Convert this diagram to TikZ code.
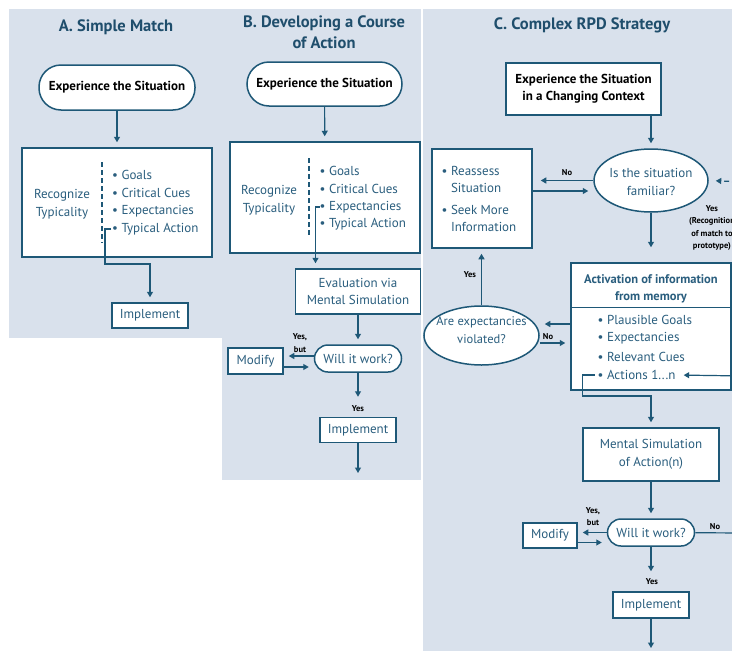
\documentclass[tikz,border=0pt]{standalone}
\usepackage{fontspec}
\setmainfont{PT Sans}
\usetikzlibrary{arrows.meta,shapes.geometric,positioning,calc}
\definecolor{panelbg}{HTML}{D9E1EC}
\definecolor{rpdline}{HTML}{1E5877}
\definecolor{rpdtext}{HTML}{2A5E7E}
\definecolor{rpdtitle}{HTML}{1F4E6C}
\tikzset{%
  panel/.style={fill=panelbg,draw=none},
  heading/.style={font=\bfseries\fontsize{16.5}{21}\selectfont,text=rpdtitle,align=center},
  plainbox/.style={draw=rpdline,line width=1.5pt,fill=white,inner sep=0pt,text=rpdtext,font=\fontsize{13}{17}\selectfont,align=center},
  sitbox/.style={plainbox,rounded corners=22pt,text=black,font=\bfseries\fontsize{13}{17}\selectfont},
  pill/.style={plainbox,rounded corners=13.5pt},
  decision/.style={plainbox,ellipse},
  plaintext/.style={inner sep=0pt,text=rpdtext,font=\fontsize{13}{18}\selectfont,align=center},
  itemtext/.style={anchor=west,inner sep=0pt,text=rpdtext,font=\fontsize{13}{15}\selectfont},
  answer/.style={inner sep=0pt,font=\bfseries\fontsize{8.5}{12.5}\selectfont,align=center},
  flow/.style={draw=rpdline,line width=1.2pt,-{Triangle[width=6pt,length=5.5pt]},shorten >=5pt},
  link/.style={draw=rpdline,line width=1.2pt},
  divider/.style={draw=rpdline,line width=1.2pt,dash pattern=on 5pt off 3pt},
}

\begin{document}
\begin{tikzpicture}[x=1pt,y=-1pt]
\useasboundingbox (0,0) rectangle (732,651);
\fill[white] (0,0) rectangle (732,651);
\fill[panel] (9,9) rectangle (222,338);
\fill[panel] (222,9) rectangle (421,480);
\fill[panel] (423,9) rectangle (732,651);

% A. Simple Match
\node[heading] (ttlA) at (116,27) {A. Simple Match};
\node[sitbox,minimum width=156pt,minimum height=45pt] (expA) at (117,87.5) {Experience the Situation};
\node[plainbox,minimum width=190pt,minimum height=109pt] (recA) at (117,202.5) {};
\node[plaintext] (typA) at (62,204) {Recognize\\Typicality};
\draw[divider] (102,162) -- (102,243);
\node[itemtext] (goA) at (112,175) {\textbullet\ Goals};
\node[itemtext] (ccA) at (112,193) {\textbullet\ Critical Cues};
\node[itemtext] (exA) at (112,211) {\textbullet\ Expectancies};
\node[itemtext] (taA) at (112,229) {\textbullet\ Typical Action};
\node[plainbox,minimum width=76pt,minimum height=25pt] (impA) at (150,315.5) {Implement};
\draw[flow] (expA) -- (recA);
\draw[flow] ([xshift=-1pt]taA.west) -- ++(-6,0) -- ++(0,35) -| (impA.north);

% B. Developing a Course of Action
\node[heading] (ttlB) at (324,32.5) {B. Developing a Course\\of Action};
\node[sitbox,minimum width=155pt,minimum height=44pt] (expB) at (324.5,84) {Experience the Situation};
\node[plainbox,minimum width=190pt,minimum height=111pt] (recB) at (325,197.5) {};
\node[plaintext] (typB) at (269,200) {Recognize\\Typicality};
\draw[divider] (309,158) -- (309,237);
\node[itemtext] (goB) at (319.5,171) {\textbullet\ Goals};
\node[itemtext] (ccB) at (319.5,189) {\textbullet\ Critical Cues};
\node[itemtext] (exB) at (319.5,207) {\textbullet\ Expectancies};
\node[itemtext] (taB) at (319.5,224) {\textbullet\ Typical Action};
\node[plainbox,minimum width=125pt,minimum height=45pt] (evB) at (358,291.5) {Evaluation via\\Mental Simulation};
\node[pill,minimum width=87pt,minimum height=27pt] (wwB) at (358,358.5) {Will it work?};
\node[plainbox,minimum width=55pt,minimum height=26pt] (modB) at (255.5,361) {Modify};
\node[plainbox,minimum width=76pt,minimum height=25pt] (impB) at (358,430) {Implement};
\coordinate (endB) at (358,478);
\draw[flow] (expB) -- (recB);
\draw[flow] (exB.west) -- ++(-4,0) coordinate (kB) -- (kB |- evB.north);
\draw[flow] (evB) -- (wwB);
\draw[flow] ([yshift=2.5pt]wwB.west) -- ([yshift=2.5pt]wwB.west -| modB.east);
\draw[flow] ([yshift=-6pt]modB.east) -- ([yshift=-6pt]modB.east -| wwB.west);
\draw[flow,shorten >=20pt] (wwB) -- (impB);
\draw[flow] (impB) -- (endB);
\node[answer] (ybB) at (300,343) {Yes,\\but};
\node[answer] (yB) at (358,409) {Yes};

% C. Complex RPD Strategy
\node[heading] (ttlC) at (582,25) {C. Complex RPD Strategy};
\node[plainbox,text=black,font=\bfseries\fontsize{13}{17}\selectfont,minimum width=155pt,minimum height=52pt] (expC) at (583.5,89) {Experience the Situation\\in a Changing Context};
\node[decision,minimum width=114pt,minimum height=63pt] (isC) at (651,180.5) {};
\node[plaintext] (isT) at (651,182) {Is the situation\\familiar?};
\node[plainbox,minimum width=100pt,minimum height=99pt] (reC) at (482,198.5) {};
\node[plaintext,align=left,font=\fontsize{13}{17}\selectfont] (reT) at (479,200.5) {\begin{tabular}{@{}l@{\ }l@{}}\textbullet&Reassess\\&Situation\\[5pt]\textbullet&Seek More\\&Information\end{tabular}};
\node[plainbox,minimum width=160pt,minimum height=127pt] (actC) at (651,326.5) {};
\draw[link,line width=1.5pt] ([yshift=-45pt]actC.north west) -- ([yshift=-45pt]actC.north east);
\node[plaintext,font=\bfseries\fontsize{12.5}{17}\selectfont] (actT) at (651,288.5) {Activation of information\\from memory};
\node[itemtext] (pgC) at (597.5,320) {\textbullet\ Plausible Goals};
\node[itemtext] (exC) at (597.5,338) {\textbullet\ Expectancies};
\node[itemtext] (rcC) at (597.5,357) {\textbullet\ Relevant Cues};
\node[itemtext] (anC) at (597.5,375) {\textbullet\ Actions 1...n};
\node[decision,minimum width=115pt,minimum height=59pt] (esC) at (481.5,335.5) {};
\node[plaintext,font=\fontsize{12.5}{18}\selectfont] (esT) at (481.5,330.5) {Are expectancies\\violated?};
\node[plainbox,minimum width=136pt,minimum height=53pt,font=\fontsize{13}{18}\selectfont] (msC) at (651,454.5) {Mental Simulation\\of Action(n)};
\node[pill,minimum width=87pt,minimum height=27pt] (wwC) at (651,532.5) {Will it work?};
\node[plainbox,minimum width=54pt,minimum height=25pt] (modC) at (550,535.5) {Modify};
\node[plainbox,minimum width=76pt,minimum height=26pt] (impC) at (651,605) {Implement};
\coordinate (loopF) at (745,182);
\coordinate (loopA) at (745,376);
\coordinate (loopN) at (745,533);
\coordinate (endC) at (651,653);
\draw[flow] (isC.north |- expC.south) -- (isC.north);
\draw[flow,shorten >=15pt] (isC) -- (actC);
\draw[flow,dash pattern=on 5pt off 3pt,shorten >=7pt] (loopF) -- (isC.east);
\draw[flow,shorten >=8pt] (isC.west) -- (isC.west -| reC.east);
\draw[flow] ([yshift=-10.5pt]isC.west -| reC.east) -- ([yshift=-10.5pt]isC.west);
\draw[flow] ([yshift=2.5pt]actC.west) -- ([yshift=2.5pt]actC.west -| esC.east);
\draw[flow] ([yshift=-7.5pt]esC.east) -- ([yshift=-7.5pt]esC.east -| actC.west);
\draw[flow] (esC) -- (esC.north |- reC.south);
\draw[flow,shorten >=8pt] (loopA) -- (anC.east);
\draw[flow] ([xshift=-3pt]anC.west) -- ++(-12,0) -- ++(0,21) -| (msC.north);
\draw[flow] (msC) -- (wwC);
\draw[flow] (wwC.west) -- (wwC.west -| modC.east);
\draw[flow] ([yshift=-10pt]wwC.west -| modC.east) -- ([yshift=-10pt]wwC.west);
\draw[link] (wwC) -- (loopN);
\draw[flow,shorten >=20pt] (wwC) -- (impC);
\draw[flow] (impC) -- (endC);
\node[answer] (nC) at (567,173) {No};
\node[answer] (yrC) at (712,228) {Yes\\(Recognition\\of match to\\prototype)};
\node[answer] (yC) at (470,275) {Yes};
\node[answer] (nvC) at (548,337) {No};
\node[answer] (ybC) at (593,516.5) {Yes,\\but};
\node[answer] (nwC) at (715,527) {No};
\node[answer] (ywC) at (652,582) {Yes};
\end{tikzpicture}
\end{document}
